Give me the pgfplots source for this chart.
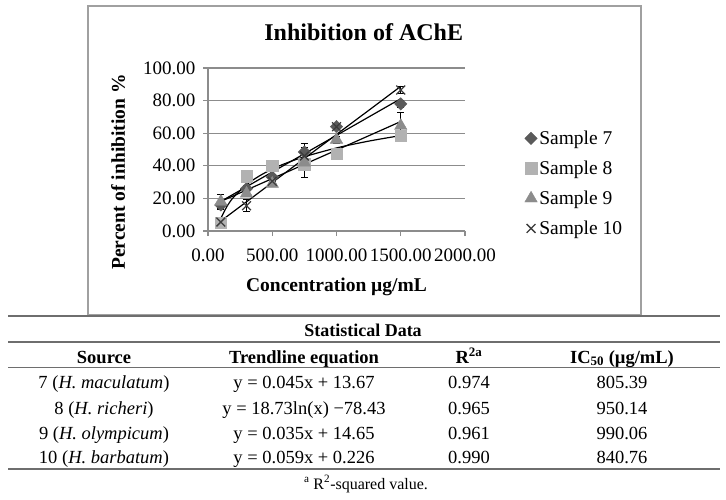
\documentclass[border=0pt]{standalone}
\usepackage{fontspec}
\setmainfont{Liberation Serif}
\usepackage{pgfplots}
\pgfplotsset{compat=1.18}
\definecolor{gridgray}{HTML}{8C8C8C}
\definecolor{boxgray}{HTML}{A0A0A0}
\definecolor{sseven}{HTML}{5A5A5A}
\definecolor{seight}{HTML}{B2B2B2}
\definecolor{snine}{HTML}{8C8C8C}
\definecolor{sten}{HTML}{3C3C3C}
\definecolor{rulegray}{HTML}{6E6E6E}
\begin{document}
\begin{tikzpicture}
\path[use as bounding box] (0,0) rectangle (726pt,-500pt);
\draw[boxgray, line width=1.2pt] (88pt,-6pt) rectangle (641pt,-315pt);
\begin{axis}[
  at={(208pt,-231pt)}, anchor=south west,
  scale only axis, width=257pt, height=163pt,
  xmin=0, xmax=2000, ymin=0, ymax=100,
  xtick={0,500,1000,1500,2000}, ytick={0,20,40,60,80,100},
  axis x line*=bottom, axis y line*=left,
  axis line style={gridgray, line width=1.1pt},
  ymajorgrids, grid style={gridgray, line width=1.1pt},
  tick style={gridgray, line width=1.1pt},
  tick align=outside, major tick length=5pt,
  ticklabel style={font=\fontsize{19}{19}\selectfont},
  xticklabel style={yshift=-9pt},
  yticklabel style={xshift=-4pt},
  /pgf/number format/fixed, /pgf/number format/fixed zerofill,
  /pgf/number format/precision=2, /pgf/number format/1000 sep={},
  /pgf/number format/assume math mode=true,
  title={Inhibition of AChE},
  title style={font=\fontsize{24}{24}\selectfont\bfseries, at={(axis description cs:0.606,1.185)}, anchor=center},
  xlabel={Concentration µg/mL},
  xlabel style={font=\fontsize{19.5}{19.5}\selectfont\bfseries, at={(axis description cs:0.5,-0.34)}, anchor=center},
  ylabel={Percent of inhibition \%},
  ylabel style={font=\fontsize{19.5}{19.5}\selectfont\bfseries, at={(axis description cs:-0.35,0.362)}, anchor=center},
  legend style={at={(axis description cs:1.232,0.292)}, anchor=west, draw=none, fill=none,
    font=\fontsize{19.5}{19.5}\selectfont, row sep=11pt, inner sep=0pt},
  legend cell align=left,
  error bars/y dir=both, error bars/y explicit,
  error bars/error bar style={black, line width=0.9pt},
  error bars/error mark options={rotate=90, black, mark size=3.5pt, line width=0.9pt},
]
\addplot[only marks, mark=square*, mark size=4.4pt, mark options={rotate=45, fill=sseven, draw=sseven}]
  coordinates {(100,16) +- (0,2) (300,26) +- (0,2) (500,33) +- (0,2) (750,48.5) +- (0,5.5) (1000,64) +- (0,1.5) (1500,78) +- (0,2)};
\addlegendentry{Sample 7}
\addplot[only marks, mark=square*, mark size=5.7pt, mark options={fill=seight, draw=seight}]
  coordinates {(100,5) +- (0,1) (300,33.5) +- (0,1.5) (500,40) +- (0,1.5) (750,41) +- (0,1.5) (1000,47.5) +- (0,1.5) (1500,58.5) +- (0,2.5)};
\addlegendentry{Sample 8}
\addplot[only marks, mark=triangle*, mark size=7.2pt, mark options={fill=snine, draw=snine}]
  coordinates {(100,18) +- (0,4.5) (300,23) +- (0,2) (500,29) +- (0,1.5) (750,42) +- (0,9) (1000,56) +- (0,2) (1500,64.5) +- (0,8)};
\addlegendentry{Sample 9}
\addplot[only marks, mark=x, mark size=6.2pt, mark options={draw=sten, line width=1.3pt}]
  coordinates {(100,5.5) +- (0,2) (300,15.5) +- (0,3.8) (500,30.5) +- (0,1.5) (750,46) +- (0,2) (1000,64) +- (0,1.5) (1500,86.5) +- (0,2)};
\addlegendentry{Sample 10}
% trendlines
\addplot[black, line width=1.2pt, forget plot, no marks] coordinates {(100,18.17) (1500,81.17)};
\addplot[black, line width=1.2pt, forget plot, no marks, smooth] coordinates {(100,7.82) (150,15.42) (200,20.81) (300,28.40) (400,33.79) (500,37.97) (600,41.38) (750,45.56) (1000,50.95) (1250,55.13) (1500,58.55)};
\addplot[black, line width=1.2pt, forget plot, no marks] coordinates {(100,18.15) (1500,67.15)};
\addplot[black, line width=1.2pt, forget plot, no marks] coordinates {(100,6.13) (1500,88.73)};
\end{axis}
% table
\draw[rulegray, line width=1.6pt] (8pt,-316pt) -- (720pt,-316pt);
\draw[rulegray, line width=1.6pt] (8pt,-342pt) -- (720pt,-342pt);
\draw[rulegray, line width=0.9pt] (8pt,-367pt) -- (720pt,-367pt);
\draw[rulegray, line width=1.6pt] (8pt,-469pt) -- (720pt,-469pt);
\begin{scope}[every node/.style={font=\fontsize{18.5}{18.5}\selectfont, inner sep=0pt, anchor=base}]
\node[font=\fontsize{18}{18}\selectfont\bfseries] at (363pt,-336.5pt) {Statistical Data};
\node[font=\fontsize{18.5}{18.5}\selectfont\bfseries] at (104pt,-363pt) {Source};
\node[font=\fontsize{18.5}{18.5}\selectfont\bfseries] at (304pt,-363pt) {Trendline equation};
\node[font=\fontsize{18.5}{18.5}\selectfont\bfseries] at (469pt,-363pt) {R\textsuperscript{2a}};
\node[font=\fontsize{18.5}{18.5}\selectfont\bfseries] at (622pt,-363pt) {IC\textsubscript{50} (µg/mL)};
\node at (104pt,-388.5pt) {7 (\textit{H. maculatum})};
\node at (104pt,-414pt) {8 (\textit{H. richeri})};
\node at (104pt,-439pt) {9 (\textit{H. olympicum})};
\node at (104pt,-463.7pt) {10 (\textit{H. barbatum})};
\node at (304pt,-388.5pt) {y = 0.045x + 13.67};
\node at (304pt,-414pt) {y = 18.73ln(x) −78.43};
\node at (304pt,-439pt) {y = 0.035x + 14.65};
\node at (304pt,-463.7pt) {y = 0.059x + 0.226};
\node at (469pt,-388.5pt) {0.974};
\node at (469pt,-414pt) {0.965};
\node at (469pt,-439pt) {0.961};
\node at (469pt,-463.7pt) {0.990};
\node at (622pt,-388.5pt) {805.39};
\node at (622pt,-414pt) {950.14};
\node at (622pt,-439pt) {990.06};
\node at (622pt,-463.7pt) {840.76};
\node[font=\fontsize{16}{16}\selectfont] at (366pt,-489pt) {\textsuperscript{a} R\textsuperscript{2}-squared value.};
\end{scope}
\end{tikzpicture}
\end{document}
